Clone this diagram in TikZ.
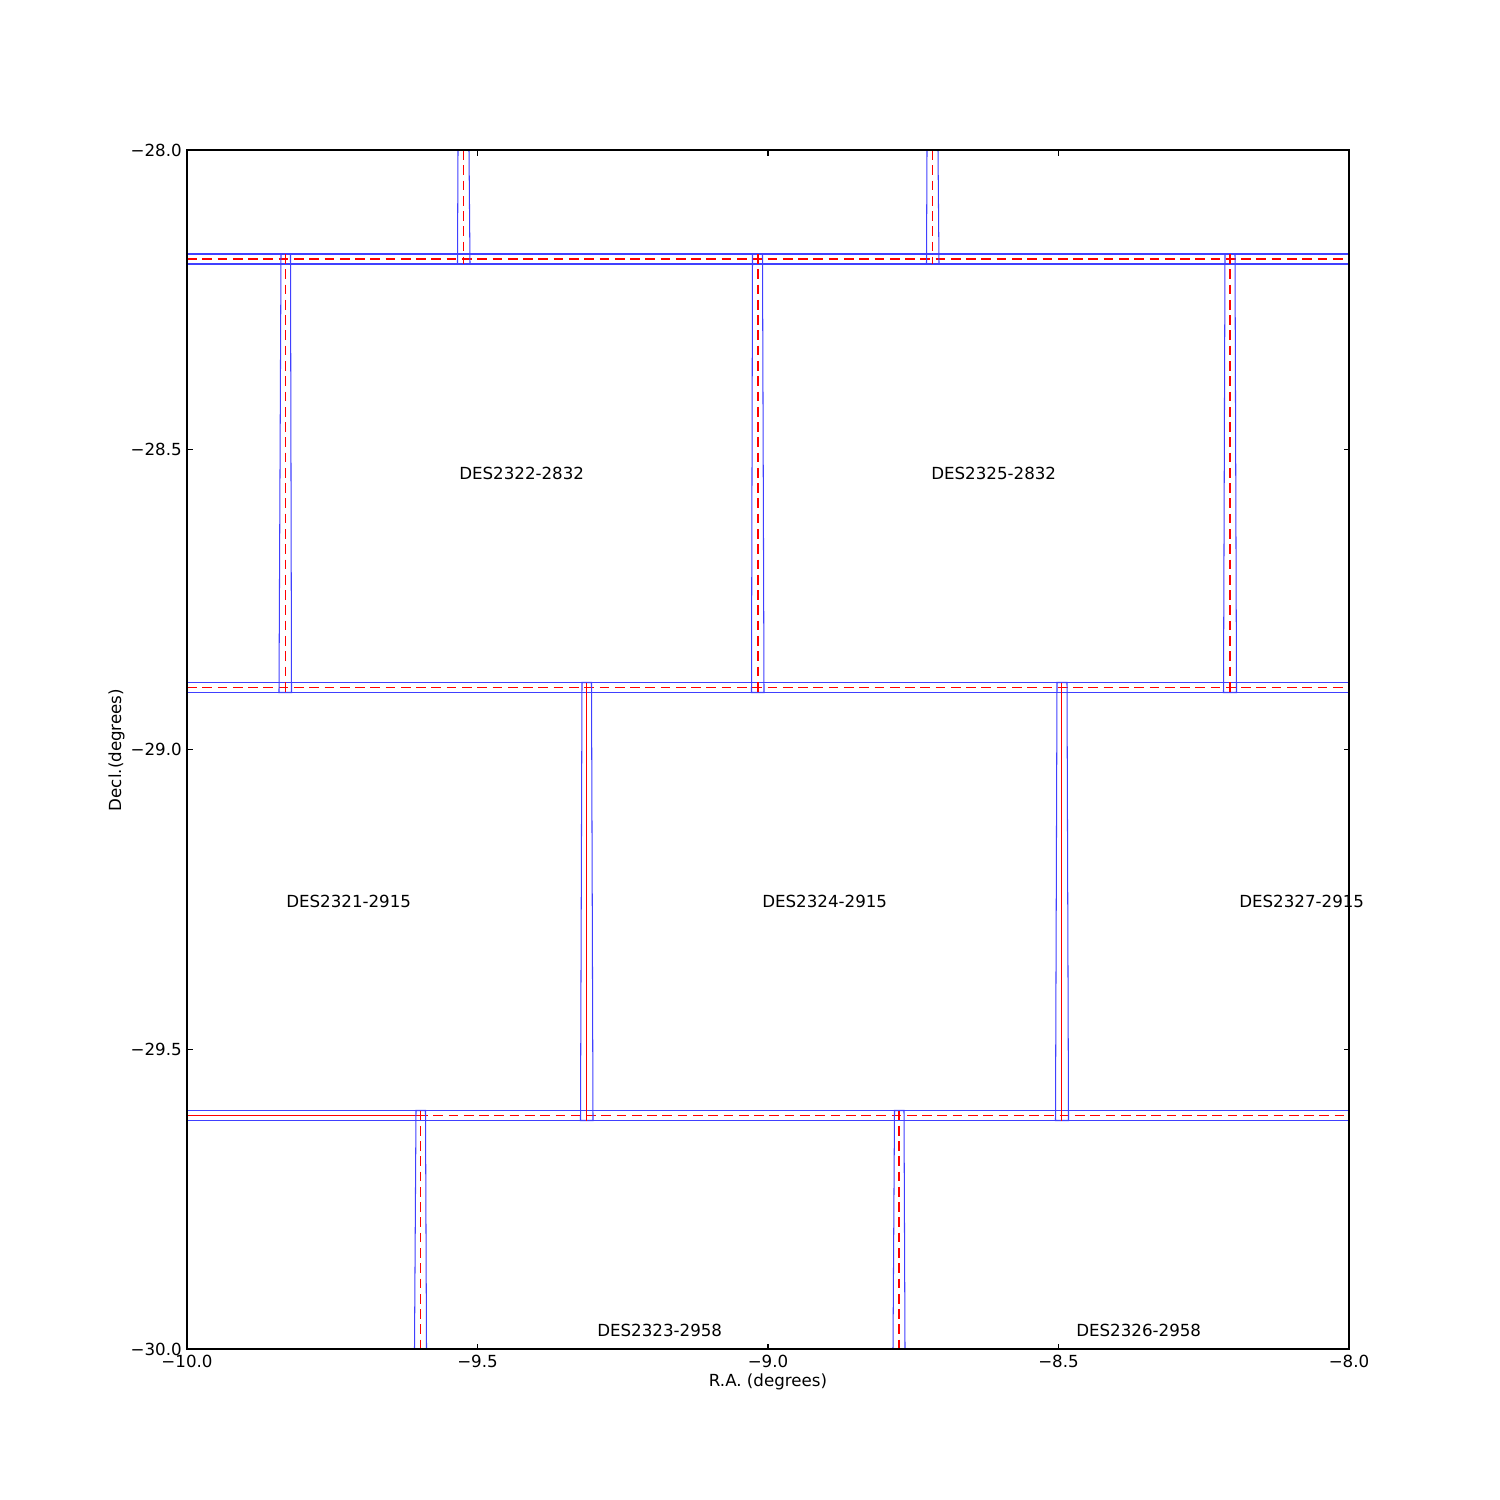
\documentclass[tikz,border=0pt]{standalone}
\usepackage{fontspec}
\setmainfont{DejaVu Sans}
\usetikzlibrary{positioning}

\begin{document}
\begin{tikzpicture}[x=0.72pt, y=-0.72pt,
    overlap/.style={draw=blue!75, line width=0.75pt},
    centre/.style={draw=red, line width=0.8pt, dash pattern=on 7pt off 4pt},
    centresolid/.style={draw=red, line width=0.8pt},
    tile/.style={anchor=base west, inner sep=0pt, font=\fontsize{12}{14}\selectfont},
    ticklabel/.style={inner sep=0pt, font=\fontsize{12}{14}\selectfont},
    tick/.style={line width=0.8pt}]

        \useasboundingbox (0,0) rectangle (1500,1500);

        % Horizontal overlap bands
        \foreach \ya/\yb in {254/264, 682.5/692.5, 1110.5/1120.5} {
            \draw[overlap] (187,\ya) -- (1349,\ya);
            \draw[overlap] (187,\yb) -- (1349,\yb);
        }
        \draw[centre] (187,259) -- (1349,259);
        \draw[centre] (187,687.5) -- (1349,687.5);
        \draw[centresolid] (187,1115.5) -- (418,1115.5);
        \draw[centre] (418,1115.5) -- (1349,1115.5);

        % Vertical overlap boxes
        \foreach \tl/\tr/\bl/\br/\yt/\yb/\xc in {458/469/457.5/470/150/264/463.5, 927/938/926.5/939/150/264/932.5,
            281/290.5/279/291.5/254/692.5/285.5, 752.5/762.5/751.5/764/254/692.5/758, 1225/1235/1223.5/1236.5/254/692.5/1230,
            416/425.5/414.5/426.5/1110.5/1349/420.5, 894.5/904/893/905/1110.5/1349/899} {
            \draw[overlap] (\tl,\yt) -- (\tr,\yt) -- (\br,\yb) -- (\bl,\yb) -- cycle;
            \draw[centre] (\xc,\yt) -- (\xc,\yb);
        }
        \foreach \tl/\tr/\bl/\br/\yt/\yb/\xc in {582/591.5/580.5/593/682.5/1120.5/586.5, 1057/1067/1055.5/1068.5/682.5/1120.5/1061.5} {
            \draw[overlap] (\tl,\yt) -- (\tr,\yt) -- (\br,\yb) -- (\bl,\yb) -- cycle;
            \draw[centresolid] (\xc,\yt) -- (\xc,\yb);
        }

        % Tile names
        \node[tile] (t2322) at (459,479) {DES2322-2832};
        \node[tile] (t2325) at (931,479) {DES2325-2832};
        \node[tile] (t2321) at (286,907) {DES2321-2915};
        \node[tile] (t2324) at (762,907) {DES2324-2915};
        \node[tile] (t2327) at (1239,907) {DES2327-2915};
        \node[tile] (t2323) at (597,1336) {DES2323-2958};
        \node[tile] (t2326) at (1076,1336) {DES2326-2958};

        % Axes
        \draw[line width=1pt] (187,150) rectangle (1349,1349);
        \foreach \x/\lab in {187/−10.0, 477.5/−9.5, 768/−9.0, 1058.5/−8.5, 1349/−8.0} {
            \draw[tick] (\x,1349) -- (\x,1343.5);
            \draw[tick] (\x,150) -- (\x,155.5);
            \node[ticklabel, anchor=base] (xl\x) at (\x,1367) {\lab};
        }
        \foreach \y/\lab in {150/−28.0, 449.75/−28.5, 749.5/−29.0, 1049.25/−29.5, 1349/−30.0} {
            \draw[tick] (187,\y) -- (192.5,\y);
            \draw[tick] (1349,\y) -- (1343.5,\y);
            \node[ticklabel, anchor=east] (yl\y) at (182,\y) {\lab};
        }
        \node[ticklabel, anchor=base] (xlabel) at (768,1386) {R.A. (degrees)};
        \node[ticklabel, anchor=base, rotate=90] (ylabel) at (121,750) {Decl.(degrees)};

    \end{tikzpicture}
\end{document}
